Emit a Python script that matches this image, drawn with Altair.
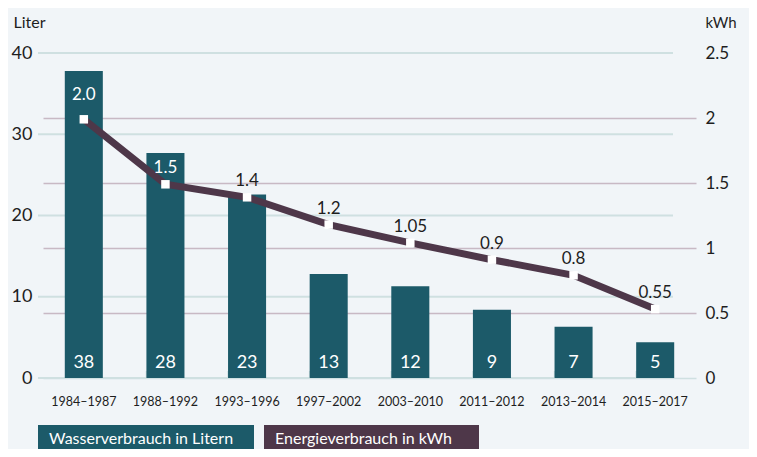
import altair as alt
import pandas as pd

periods = ["1984–1987", "1988–1992", "1993–1996", "1997–2002",
           "2003–2010", "2011–2012", "2013–2014", "2015–2017"]
water = [37.8, 27.7, 22.6, 12.8, 11.3, 8.4, 6.3, 4.4]
water_labels = ["38", "28", "23", "13", "12", "9", "7", "5"]
energy = [1.99, 1.49, 1.39, 1.18, 1.04, 0.91, 0.79, 0.53]
energy_labels = ["2.0", "1.5", "1.4", "1.2", "1.05", "0.9", "0.8", "0.55"]
left_ticks = [0, 10, 20, 30, 40]
right_ticks = [0, 0.5, 1, 1.5, 2, 2.5]
series = ["Wasserverbrauch in Litern", "Energieverbrauch in kWh"]

W, H = 653, 325
TEAL = "#1c5a69"
PLUM = "#4e3749"
GRID_T = "#cfe0e1"
GRID_P = "#c8b9c4"
BG = "#f1f5f8"
TXT = "#1e1e1e"
FONT = "Lato"

df = pd.DataFrame({"period": periods, "water": water, "water_label": water_labels,
                   "energy": energy, "energy_label": energy_labels,
                   "idx": list(range(len(periods)))})
grid_df = pd.DataFrame({"water": left_ticks})
legend_df = pd.DataFrame({"name": series, "i": [0, 1]})

x_axis = alt.Axis(title="", labelAngle=0, labelFontSize=12.5, labelColor=TXT,
                  labelFont=FONT, labelPadding=17, labelBaseline="top",
                  ticks=False, tickSize=0, domainColor=GRID_T, domainWidth=1.5,
                  grid=False)
x_scale = alt.Scale(paddingInner=0.534, paddingOuter=0.267)


def xenc(**kw):
    return alt.X("period:N", sort=periods, scale=x_scale, axis=x_axis, **kw)


yl_scale = alt.Scale(domain=[0, 40], nice=False, zero=True)
yr_scale = alt.Scale(domain=[0, 2.5], nice=False, zero=True)

left_axis = alt.Axis(values=left_ticks, orient="left", title="Liter", titleAngle=0,
                     titleX=-30, titleY=-26, titleAlign="left", titleBaseline="alphabetic",
                     titleFontSize=16, titleFontWeight="normal", titleColor=TXT, titleFont=FONT,
                     labelFontSize=18, labelColor=TXT, labelFont=FONT, labelPadding=11,
                     grid=False, domain=False, ticks=False, tickSize=0)
right_axis = alt.Axis(values=right_ticks, orient="right", title="kWh", titleAngle=0,
                      titleX=9, titleY=-26, titleAlign="left", titleBaseline="alphabetic",
                      titleFontSize=15, titleFontWeight="normal", titleColor=TXT, titleFont=FONT,
                      labelFontSize=17, labelColor=TXT, labelFont=FONT, labelPadding=9,
                      format="~g", grid=True, gridColor=GRID_P, gridWidth=1.5,
                      gridOpacity={"condition": {"test": "datum.value > 0 && datum.value < 2.5",
                                                 "value": 1}, "value": 0},
                      domain=False, ticks=False, tickSize=0)


def yl(field="water"):
    return alt.Y(f"{field}:Q", scale=yl_scale, axis=left_axis)


def yr():
    return alt.Y("energy:Q", scale=yr_scale, axis=right_axis)


teal_rules = alt.Chart(grid_df).mark_rule(color=GRID_T, strokeWidth=2).encode(
    y=yl(), x=alt.value(-5), x2=alt.value(630))

inner_ticks = alt.Chart(df).transform_filter("datum.idx >= 1").mark_rule(
    color=GRID_T, strokeWidth=1.5).encode(
    x=xenc(bandPosition=0),
    y=alt.value(H - 7), y2=alt.value(H))

bars = alt.Chart(df).mark_bar(color=TEAL).encode(x=xenc(), y=yl())

bar_labels = alt.Chart(df).mark_text(color="white", fontSize=18, font=FONT, dy=-10,
                                     baseline="alphabetic").encode(
    x=xenc(), y=alt.datum(0), text="water_label:N")

left = alt.layer(teal_rules, inner_ticks, bars, bar_labels)

line = alt.Chart(df).mark_line(color=PLUM, strokeWidth=7).encode(x=xenc(), y=yr())
points = alt.Chart(df).mark_point(shape="square", filled=True, color="white",
                                  size=72, opacity=1).encode(x=xenc(), y=yr())
lbl0 = alt.Chart(df).transform_filter("datum.idx == 0").mark_text(
    color="white", fontSize=17, font=FONT, dy=-19, baseline="alphabetic").encode(
    x=xenc(), y=yr(), text="energy_label:N")
lbl1 = alt.Chart(df).transform_filter("datum.idx == 1").mark_text(
    color="white", fontSize=17, font=FONT, dy=-11, baseline="alphabetic").encode(
    x=xenc(), y=yr(), text="energy_label:N")
lbl2 = alt.Chart(df).transform_filter("datum.idx >= 2").mark_text(
    color=TXT, fontSize=17, font=FONT, dy=-11, baseline="alphabetic").encode(
    x=xenc(), y=yr(), text="energy_label:N")

leg_box0 = alt.Chart(legend_df).transform_filter("datum.i == 0").mark_rect(color=TEAL).encode(
    x=alt.value(-5), x2=alt.value(211), y=alt.value(H + 47), y2=alt.value(H + 90))
leg_box1 = alt.Chart(legend_df).transform_filter("datum.i == 1").mark_rect(color=PLUM).encode(
    x=alt.value(221), x2=alt.value(436), y=alt.value(H + 47), y2=alt.value(H + 90))
leg_txt0 = alt.Chart(legend_df).transform_filter("datum.i == 0").mark_text(
    color="white", fontSize=16, font=FONT, align="left", baseline="alphabetic").encode(
    x=alt.value(6), y=alt.value(H + 66), text="name:N")
leg_txt1 = alt.Chart(legend_df).transform_filter("datum.i == 1").mark_text(
    color="white", fontSize=16, font=FONT, align="left", baseline="alphabetic").encode(
    x=alt.value(232), y=alt.value(H + 66), text="name:N")

right = alt.layer(line, points, lbl0, lbl1, lbl2, leg_box0, leg_box1, leg_txt0, leg_txt1)

chart = alt.layer(left, right).resolve_scale(y="independent").properties(
    width=W, height=H,
    padding={"left": 35, "top": 45, "right": 53, "bottom": 71},
    autosize=alt.AutoSizeParams(type="none"),
    background=BG,
).configure(font=FONT).configure_view(strokeWidth=0)

chart.save("out.html", embed_options={"renderer": "svg", "actions": False})
